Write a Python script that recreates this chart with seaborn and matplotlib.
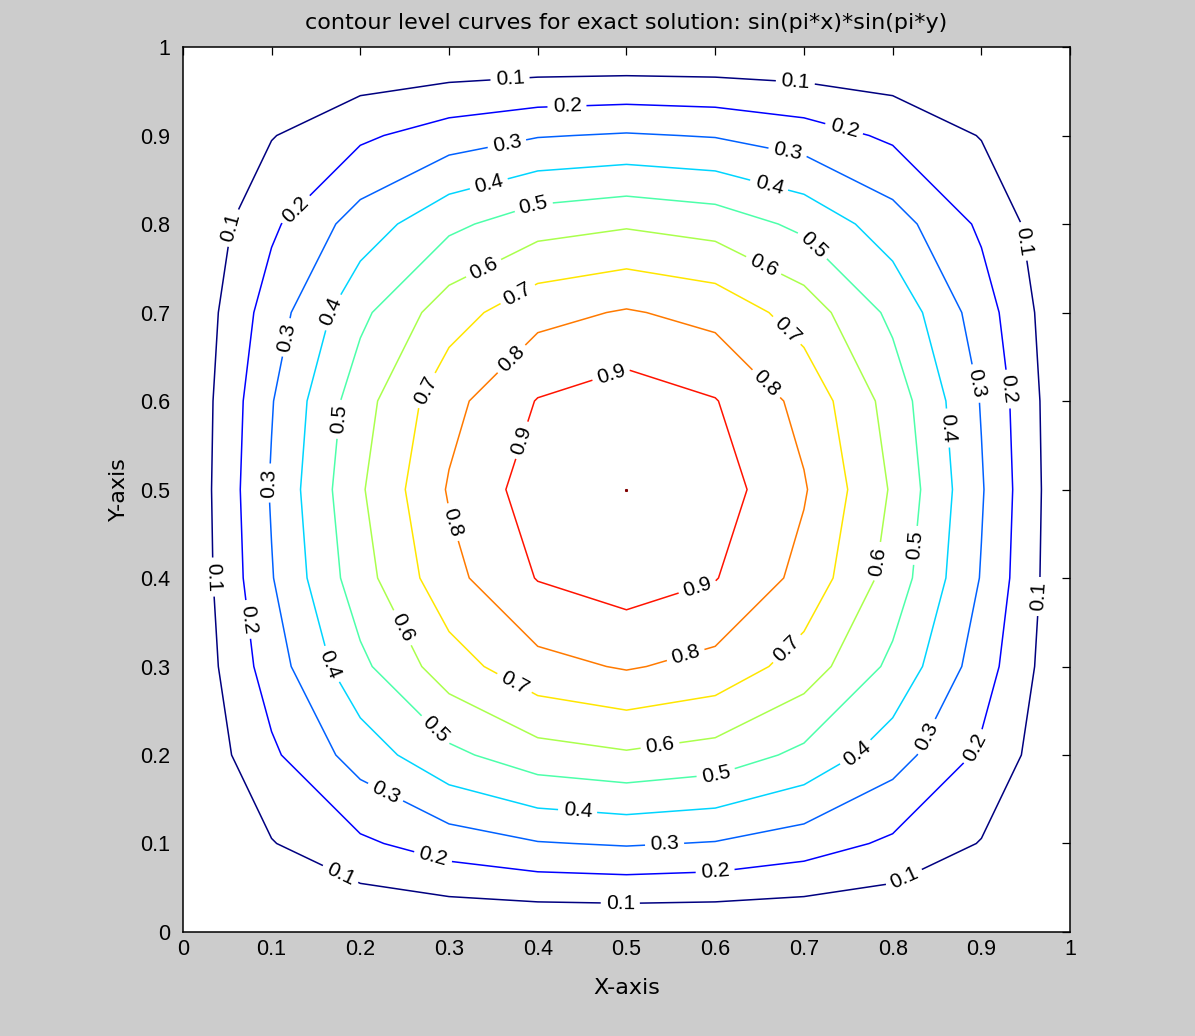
import numpy as np
import matplotlib
matplotlib.use("Agg")
import matplotlib.pyplot as plt
import seaborn as sns
from matplotlib.colors import Normalize

# grid nodes (step 0.1) and exact solution values sin(pi*x)*sin(pi*y) at the nodes
x_nodes = [0.0, 0.1, 0.2, 0.3, 0.4, 0.5, 0.6, 0.7, 0.8, 0.9, 1.0]
y_nodes = [0.0, 0.1, 0.2, 0.3, 0.4, 0.5, 0.6, 0.7, 0.8, 0.9, 1.0]
z_grid = [
    [0, 0,     0,     0,     0,     0,     0,     0,     0,     0,     0],
    [0, 0.095, 0.182, 0.250, 0.294, 0.309, 0.294, 0.250, 0.182, 0.095, 0],
    [0, 0.182, 0.345, 0.476, 0.559, 0.588, 0.559, 0.476, 0.345, 0.182, 0],
    [0, 0.250, 0.476, 0.655, 0.769, 0.809, 0.769, 0.655, 0.476, 0.250, 0],
    [0, 0.294, 0.559, 0.769, 0.905, 0.951, 0.905, 0.769, 0.559, 0.294, 0],
    [0, 0.309, 0.588, 0.809, 0.951, 1.000, 0.951, 0.809, 0.588, 0.309, 0],
    [0, 0.294, 0.559, 0.769, 0.905, 0.951, 0.905, 0.769, 0.559, 0.294, 0],
    [0, 0.250, 0.476, 0.655, 0.769, 0.809, 0.769, 0.655, 0.476, 0.250, 0],
    [0, 0.182, 0.345, 0.476, 0.559, 0.588, 0.559, 0.476, 0.345, 0.182, 0],
    [0, 0.095, 0.182, 0.250, 0.294, 0.309, 0.294, 0.250, 0.182, 0.095, 0],
    [0, 0,     0,     0,     0,     0,     0,     0,     0,     0,     0],
]
levels = [0.1, 0.2, 0.3, 0.4, 0.5, 0.6, 0.7, 0.8, 0.9]
tick_values = [0, 0.1, 0.2, 0.3, 0.4, 0.5, 0.6, 0.7, 0.8, 0.9, 1]
tick_labels = ['0', '0.1', '0.2', '0.3', '0.4', '0.5', '0.6', '0.7', '0.8', '0.9', '1']

# where the level labels sit (approximate, per level)
label_spots = {
    0.1: [(0.369, 0.960), (0.690, 0.955), (0.062, 0.795), (0.938, 0.779), (0.030, 0.401),
          (0.966, 0.379), (0.177, 0.064), (0.814, 0.059), (0.493, 0.031)],
    0.2: [(0.433, 0.931), (0.744, 0.903), (0.132, 0.812), (0.918, 0.612), (0.072, 0.353),
          (0.887, 0.211), (0.282, 0.085), (0.600, 0.067)],
    0.3: [(0.366, 0.887), (0.681, 0.878), (0.121, 0.671), (0.885, 0.618), (0.104, 0.507),
          (0.834, 0.223), (0.228, 0.157), (0.543, 0.098)],
    0.4: [(0.346, 0.841), (0.660, 0.841), (0.174, 0.697), (0.856, 0.569), (0.166, 0.302),
          (0.759, 0.202), (0.445, 0.138)],
    0.5: [(0.397, 0.815), (0.705, 0.771), (0.179, 0.579), (0.824, 0.437), (0.284, 0.228),
          (0.600, 0.181)],
    0.6: [(0.340, 0.748), (0.653, 0.750), (0.775, 0.420), (0.242, 0.341), (0.538, 0.209)],
    0.7: [(0.380, 0.716), (0.681, 0.680), (0.278, 0.610), (0.372, 0.278), (0.682, 0.319)],
    0.8: [(0.372, 0.646), (0.654, 0.616), (0.304, 0.463), (0.567, 0.312)],
    0.9: [(0.484, 0.626), (0.381, 0.556), (0.581, 0.386)],
}

sns.set_style("white")
plt.rcParams['font.family'] = ['Liberation Sans', 'DejaVu Sans']
plt.rcParams['text.color'] = 'black'
plt.rcParams['axes.labelcolor'] = 'black'

fig = plt.figure(figsize=(11.95, 10.36), dpi=100, facecolor='#cccccc')
ax = fig.add_axes([0.153, 0.1004, 0.7425, 0.8542])
ax.set_facecolor('white')

X, Y = np.meshgrid(x_nodes, y_nodes)
Z = np.array(z_grid)
norm = Normalize(vmin=0.1, vmax=1.0)
jet = plt.get_cmap('jet')

# one contour set per level, each labelled on its own
for lv in levels:
    cs = ax.contour(X, Y, Z, levels=[lv], colors=[jet(norm(lv))], linewidths=1.1)
    ax.clabel(cs, manual=label_spots[lv], fmt='%.1f',
              fontsize=15, colors='black', inline=True, inline_spacing=5)

# the peak value 1.0 shows up as a single point
peak = np.unravel_index(np.argmax(Z), Z.shape)
ax.plot(X[peak], Y[peak], marker='s', markersize=1.2, color=jet(norm(1.0)))

ax.set_xlim(0, 1)
ax.set_ylim(0, 1)
ax.set_xticks(tick_values)
ax.set_xticklabels(tick_labels)
ax.set_yticks(tick_values)
ax.set_yticklabels(tick_labels)
ax.tick_params(direction='in', length=6, width=0.9, top=True, right=True,
               labelsize=15.5, colors='black')
ax.tick_params(axis='x', pad=5)
ax.tick_params(axis='y', pad=9)
for s in ax.spines.values():
    s.set_visible(True)
    s.set_color('black')
    s.set_linewidth(1.1)

ax.set_title('contour level curves for exact solution: sin(pi*x)*sin(pi*y)',
             fontsize=16, family='DejaVu Sans', color='black', pad=13)
ax.set_xlabel('X-axis', fontsize=16, family='DejaVu Sans', labelpad=13)
ax.set_ylabel('Y-axis', fontsize=16, family='DejaVu Sans', labelpad=8)

plt.savefig('out.png', dpi=100, facecolor=fig.get_facecolor())
